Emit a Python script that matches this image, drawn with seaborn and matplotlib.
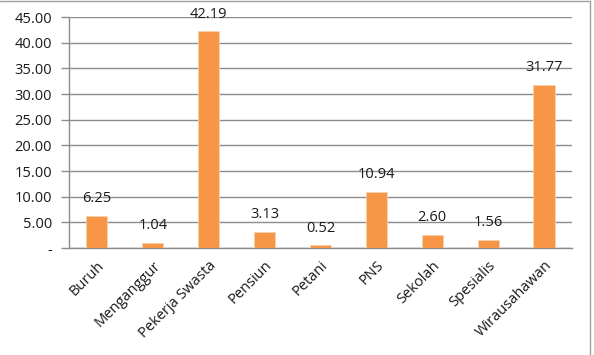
import matplotlib
matplotlib.use("Agg")
import matplotlib.pyplot as plt
import seaborn as sns
import pandas as pd
from matplotlib.lines import Line2D

# data
pekerjaan = ['Buruh', 'Menganggur', 'Pekerja Swasta', 'Pensiun', 'Petani',
             'PNS', 'Sekolah', 'Spesialis', 'Wirausahawan']
persen = [6.25, 1.04, 42.19, 3.13, 0.52, 10.94, 2.60, 1.56, 31.77]
yticks = [0, 5, 10, 15, 20, 25, 30, 35, 40, 45]
ylabels = ['-', '5.00', '10.00', '15.00', '20.00', '25.00', '30.00',
           '35.00', '40.00', '45.00']

df = pd.DataFrame({'pekerjaan': pekerjaan, 'persen': persen})

sns.set_style('white')
plt.rcParams['font.family'] = ['Open Sans', 'DejaVu Sans']

fig = plt.figure(figsize=(5.94, 3.55), dpi=100)
ax = fig.add_axes([0.116, 0.301, 0.847, 0.651])

sns.barplot(data=df, x='pekerjaan', y='persen', color='#F79646',
            width=0.38, saturation=1, edgecolor='#FBCFA8', linewidth=0.6,
            ax=ax, zorder=3)

for i, v in enumerate(persen):
    ax.text(i, v + 3.4, f'{v:.2f}', ha='center', va='center',
            fontsize=10.5, color='#1a1a1a')

ax.set_ylim(0, 45)
ax.set_xlim(-0.5, len(pekerjaan) - 0.5)
ax.set_yticks(yticks)
ax.set_yticklabels(ylabels, fontsize=10.5, color='#1a1a1a')
ax.yaxis.grid(True, color='#8c8c8c', linewidth=1.0, zorder=0)
ax.set_axisbelow(True)

# category labels at bar centres, tick marks at category boundaries
ax.set_xticks(range(len(pekerjaan)))
ax.set_xticklabels(pekerjaan, rotation=45, ha='right', rotation_mode='anchor',
                   fontsize=10.5, color='#1a1a1a')
ax.tick_params(axis='x', length=0, pad=7)
ax.set_xticks([i - 0.5 for i in range(len(pekerjaan) + 1)], minor=True)
ax.tick_params(axis='x', which='minor', length=5, width=1, color='#8c8c8c',
               direction='out')
ax.tick_params(axis='y', length=6, width=1, color='#8c8c8c', direction='out',
               pad=6)
ax.yaxis.set_tick_params(left=True)

for s in ['top', 'right']:
    ax.spines[s].set_visible(False)
for s in ['left', 'bottom']:
    ax.spines[s].set_color('#8c8c8c')
    ax.spines[s].set_linewidth(1.0)

ax.set_xlabel('')
ax.set_ylabel('')

# outer chart frame (top and right edges visible in the screenshot)
fig.add_artist(Line2D([0, 0.993], [0.998, 0.998], color='#a0a0a0',
                      linewidth=1.0, transform=fig.transFigure))
fig.add_artist(Line2D([0.993, 0.993], [0, 0.998], color='#a0a0a0',
                      linewidth=1.0, transform=fig.transFigure))

fig.savefig('out.png', dpi=100)
